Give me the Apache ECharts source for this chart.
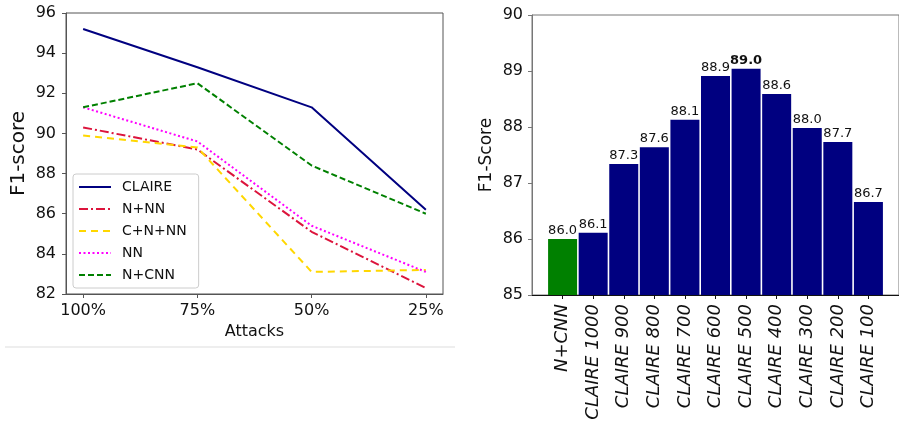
<!DOCTYPE html>
<html>
<head>
<meta charset="utf-8">
<script src="https://cdn.jsdelivr.net/npm/echarts@6/dist/echarts.min.js"></script>
<style>html,body{margin:0;padding:0;background:#fff}#c{width:899px;height:423px}</style>
</head>
<body>
<div id="c"></div>
<script>
// ---- Left chart data ----
const attackLabels = ['100%', '75%', '50%', '25%'];
const claire = [95.2, 93.3, 91.3, 86.2];
const nNN = [90.3, 89.2, 85.1, 82.3];
const cnNN = [89.9, 89.3, 83.1, 83.2];
const nn = [91.3, 89.6, 85.4, 83.1];
const nCNN = [91.3, 92.5, 88.4, 86.0];
const lineNames = ['CLAIRE', 'N+NN', 'C+N+NN', 'NN', 'N+CNN'];

// ---- Right chart data ----
const barCategories = ['N+CNN', 'CLAIRE 1000', 'CLAIRE 900', 'CLAIRE 800', 'CLAIRE 700',
  'CLAIRE 600', 'CLAIRE 500', 'CLAIRE 400', 'CLAIRE 300', 'CLAIRE 200', 'CLAIRE 100'];
const barValues = [86.0, 86.11, 87.34, 87.64, 88.13, 88.91, 89.04, 88.59, 87.98, 87.73, 86.66];

const font = 'DejaVu Sans';
const axisColor = '#555';
const idx = attackLabels.map((_, i) => i);
const barIdx = barCategories.map((_, i) => i);
const maxI = barValues.indexOf(Math.max(...barValues));

function lineSeries(name, data, color, type, width) {
  return {
    name: name, type: 'line', xAxisIndex: 0, yAxisIndex: 0,
    data: data.map((v, i) => [i, v]),
    symbol: 'none',
    lineStyle: { color: color, type: type, width: width },
    itemStyle: { color: color },
    silent: true, animation: false
  };
}

const chart = echarts.init(document.getElementById('c'), null, { renderer: 'canvas' });
chart.setOption({
  animation: false,
  textStyle: { fontFamily: font },
  grid: [
    { left: 66, top: 13, right: 456, bottom: 129, show: true, borderColor: axisColor, borderWidth: 1, backgroundColor: 'transparent' },
    { left: 532, top: 15, right: -10, bottom: 128, show: true, borderColor: '#777', borderWidth: 1, backgroundColor: 'transparent' }
  ],
  legend: {
    data: lineNames,
    orient: 'vertical',
    left: 73, top: 174,
    itemWidth: 32, itemHeight: 12, itemGap: 8,
    padding: [6, 12, 6, 5],
    borderColor: '#ccc', borderWidth: 1, borderRadius: 3,
    backgroundColor: 'rgba(255,255,255,0.85)',
    itemStyle: { opacity: 0 },
    textStyle: { fontFamily: font, fontSize: 14, color: '#111', padding: [0, 0, 0, 6] }
  },
  xAxis: [
    {
      gridIndex: 0, type: 'value', min: -0.15, max: 3.15,
      name: 'Attacks', nameLocation: 'middle', nameGap: 30,
      nameTextStyle: { fontFamily: font, fontSize: 16, color: '#111' },
      axisLine: { show: true, onZero: false, lineStyle: { color: axisColor } },
      axisTick: { show: true, customValues: idx, length: 4, lineStyle: { color: axisColor } },
      axisLabel: { customValues: idx, formatter: v => attackLabels[Math.round(v)], fontSize: 16, color: '#111', margin: 9, fontFamily: font },
      splitLine: { show: false }
    },
    {
      gridIndex: 1, type: 'value', min: -1, max: 11,
      axisLine: { show: true, onZero: false, lineStyle: { color: '#111' } },
      axisTick: { show: true, customValues: barIdx, length: 4, lineStyle: { color: '#111' } },
      axisLabel: { customValues: barIdx, formatter: v => barCategories[Math.round(v)], rotate: 90, fontSize: 18, fontStyle: 'italic', color: '#111', margin: 9, fontFamily: font },
      splitLine: { show: false }
    }
  ],
  yAxis: [
    {
      gridIndex: 0, type: 'value', min: 82, max: 96, interval: 2,
      name: 'F1-score', nameLocation: 'middle', nameGap: 37,
      nameTextStyle: { fontFamily: font, fontSize: 20, color: '#111' },
      axisLine: { show: true, onZero: false, lineStyle: { color: axisColor } },
      axisTick: { show: true, length: 4, lineStyle: { color: axisColor } },
      axisLabel: { fontSize: 16, color: '#111', margin: 10, fontFamily: font },
      splitLine: { show: false }
    },
    {
      gridIndex: 1, type: 'value', min: 85, max: 90, interval: 1,
      name: 'F1-Score', nameLocation: 'middle', nameGap: 37,
      nameTextStyle: { fontFamily: font, fontSize: 17, color: '#111' },
      axisLine: { show: true, onZero: false, lineStyle: { color: '#777' } },
      axisTick: { show: true, length: 4, lineStyle: { color: '#777' } },
      axisLabel: { fontSize: 16, color: '#111', margin: 9, fontFamily: font },
      splitLine: { show: false }
    }
  ],
  series: [
    lineSeries('CLAIRE', claire, '#000080', 'solid', 2),
    lineSeries('N+NN', nNN, '#dc143c', [9, 3, 2, 3], 2),
    lineSeries('C+N+NN', cnNN, '#ffd700', [7, 5], 2),
    lineSeries('NN', nn, '#ff00ff', [2, 2.5], 2),
    lineSeries('N+CNN', nCNN, '#008000', [6, 3], 2),
    {
      type: 'bar', xAxisIndex: 1, yAxisIndex: 1,
      barWidth: 29,
      data: barValues.map((v, i) => ({
        value: [i, v],
        itemStyle: { color: i === 0 ? '#008000' : '#000080' },
        label: i === maxI ? { fontWeight: 'bold' } : undefined
      })),
      label: {
        show: true, position: 'top', distance: 2,
        formatter: p => p.value[1].toFixed(1),
        fontSize: 13, color: '#111', fontFamily: font
      },
      silent: true, animation: false
    }
  ],
  graphic: [
    { type: 'line', shape: { x1: 5, y1: 347, x2: 455, y2: 347 }, style: { stroke: '#ddd', lineWidth: 1 }, silent: true }
  ]
});
</script>
</body>
</html>
